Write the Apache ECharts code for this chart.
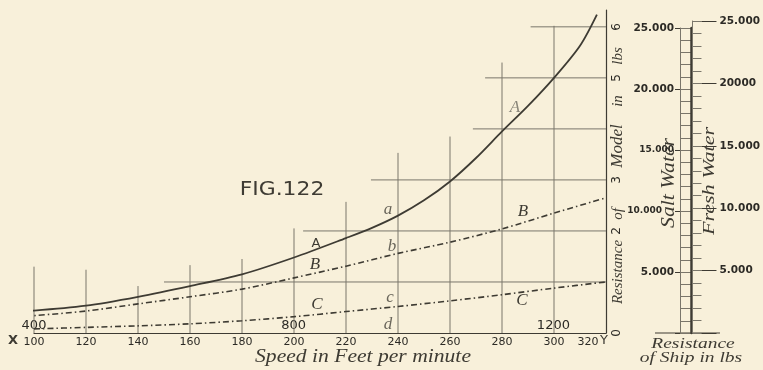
<!DOCTYPE html>
<html><head><meta charset="utf-8">
<script src="https://cdn.jsdelivr.net/npm/echarts@6/dist/echarts.min.js"></script>
<style>html,body{margin:0;padding:0;background:#f8f0da}#c{width:763px;height:370px}</style>
</head><body><div id="c"></div>
<script>
// ---- data ----
const speedTicks = [100,120,140,160,180,200,220,240,260,280,300,320];
const modelTicks = ['0','','2','3','','5','6'];          // model resistance (lbs) labels at 0..6
const shipSpeedTicks = [400, 800, 1200];
const saltTicks = ['5.000','10.000','15.000','20.000','25.000'];
const freshTicks = ['5.000','10.000','15.000','20000','25.000'];

const speedA = [91.5,100,120,140,160,180,200,220,230,240,250,260,270,280,290,300,310,316.5];
const resistA = [0.43,0.44,0.535,0.71,0.92,1.15,1.48,1.86,2.06,2.3,2.6,2.97,3.43,3.95,4.45,5.0,5.63,6.24];
const speedB = [91.5,100,120,140,160,180,200,220,240,260,280,300,320];
const resistB = [0.31,0.34,0.43,0.57,0.71,0.86,1.08,1.31,1.56,1.78,2.04,2.35,2.65];
const speedC = [100,120,140,160,180,200,220,240,260,280,300,320];
const resistC = [0.08,0.11,0.14,0.18,0.24,0.32,0.42,0.52,0.63,0.75,0.88,1.0];

// staircase grid of the figure
const vGridSpeed = [100,120,140,160,180,200,220,240,260,280,300];
const vGridTop   = [1.3,1.24,0.92,1.33,1.45,2.05,2.57,3.53,3.85,5.3,6.02];
const hGridLevel = [1,2,3,4,5,6];
const hGridStart = [150,203.5,229.6,268.8,273.5,291];

// ---- styles ----
const INK = '#3e3b33', BG = '#f8f0da';
const GRIDL = '#7a766b';
const SERIF = '"Liberation Serif", "DejaVu Serif", serif';
const SANS = '"DejaVu Sans", sans-serif';

const gridSegs = [];
vGridSpeed.forEach((s,i)=>gridSegs.push([s,0,s,vGridTop[i]]));
hGridLevel.forEach((l,i)=>gridSegs.push([hGridStart[i],l,speedTicks[speedTicks.length-1],l]));

const chart = echarts.init(document.getElementById('c'));
function txt(t, x, y, o){
  return Object.assign({type:'text', x:x, y:y, silent:true,
    style:Object.assign({text:t, fill:INK, align:'center', verticalAlign:'middle',
      font:(o&&o.font)||('italic 16px '+SERIF)}, (o&&o.style)||{})},
    o&&o.el||{});
}
const R90 = {rotation: Math.PI/2};

chart.setOption({
  backgroundColor: BG,
  animation: false,
  textStyle: {fontFamily: SANS},
  grid: [
    {left:34, right:157, top:10, bottom:37},
    {left:680, width:11, top:28, bottom:37},
    {left:692, width:10, top:21, bottom:37}
  ],
  xAxis: [
    {gridIndex:0, type:'value', min:speedTicks[0], max:speedTicks[speedTicks.length-1], interval:speedTicks[1]-speedTicks[0],
     axisLine:{show:true, lineStyle:{color:INK, width:1.2}}, axisTick:{show:false}, splitLine:{show:false},
     axisLabel:{margin:4, color:'#2c2a25', fontFamily:SANS, fontSize:11,
       formatter:v=> v===320 ? '{r|320}' : String(v),
       rich:{r:{padding:[0,36,0,0], fontFamily:SANS, fontSize:11, color:'#2c2a25'}}}},
    {gridIndex:0, type:'value', position:'bottom', min:shipSpeedTicks[0], max:1281, interval:shipSpeedTicks[1]-shipSpeedTicks[0],
     axisLine:{show:false}, axisTick:{show:false}, splitLine:{show:false},
     axisLabel:{inside:true, margin:1, color:'#2c2a25', fontFamily:SANS, fontSize:13, showMaxLabel:false,
       formatter:v=> shipSpeedTicks.includes(v) ? String(v) : ''}},
    {gridIndex:1, type:'value', show:false},
    {gridIndex:2, type:'value', show:false}
  ],
  yAxis: [
    {gridIndex:0, type:'value', position:'right', min:0, max:6.33, interval:1,
     axisLine:{show:true, lineStyle:{color:INK, width:1.2}}, axisTick:{show:false}, splitLine:{show:false},
     axisLabel:{rotate:90, margin:5, color:'#2c2a25', fontFamily:SANS, fontSize:12, showMaxLabel:false,
       formatter:v=> modelTicks[v]!==undefined ? modelTicks[v] : ''}},
    // salt-water ladder column
    {gridIndex:1, type:'value', position:'left', min:0, max:25000, interval:1000,
     axisLine:{show:true, lineStyle:{color:GRIDL, width:1}}, axisTick:{show:false}, axisLabel:{show:false},
     splitLine:{show:true, lineStyle:{color:GRIDL, width:1}}},
    {gridIndex:1, type:'value', position:'left', min:0, max:25000, interval:5000,
     axisLine:{show:false}, axisTick:{show:true, length:5, lineStyle:{color:INK}}, splitLine:{show:false},
     axisLabel:{margin:6, color:'#2c2a25', fontFamily:SANS, fontWeight:'bold', fontSize:10.5,
       formatter:v=>{ if(!v) return ''; const i=v/5000-1; const t=saltTicks[i];
         return (i===1)?'{s2|'+t+'}':(i===2?'{s|'+t+'}':t);},
       rich:{s:{fontSize:9, fontWeight:'bold', fontFamily:SANS, color:'#2c2a25'},
             s2:{fontSize:9, fontWeight:'bold', fontFamily:SANS, color:'#2c2a25', padding:[0,12,0,0]}}}},
    {gridIndex:1, type:'value', position:'right', min:0, max:25000,
     axisLine:{show:true, lineStyle:{color:INK, width:2.5}}, axisTick:{show:false}, axisLabel:{show:false}, splitLine:{show:false}},
    // fresh-water ladder column
    {gridIndex:2, type:'value', position:'right', min:0, max:25000, interval:1000,
     axisLine:{show:true, lineStyle:{color:GRIDL, width:1}}, axisTick:{show:false}, axisLabel:{show:false},
     splitLine:{show:true, lineStyle:{color:GRIDL, width:1}}},
    {gridIndex:2, type:'value', position:'right', min:0, max:25000, interval:5000,
     axisLine:{show:false}, axisTick:{show:true, length:15, lineStyle:{color:INK}}, splitLine:{show:false},
     axisLabel:{margin:18, color:'#2c2a25', fontFamily:SANS, fontWeight:'bold', fontSize:10.5,
       formatter:v=> v ? freshTicks[v/5000-1] : ''}}
  ],
  series: [
    {type:'custom', xAxisIndex:0, yAxisIndex:0, silent:true, clip:false, data:gridSegs, encode:{x:[0,2], y:[1,3]},
     renderItem:(p,api)=>{ const a=api.coord([api.value(0),api.value(1)]), b=api.coord([api.value(2),api.value(3)]);
       return {type:'line', shape:{x1:a[0],y1:a[1],x2:b[0],y2:b[1]}, style:{stroke:GRIDL, lineWidth:1}}; }},
    {type:'line', name:'A', xAxisIndex:0, yAxisIndex:0, clip:false, smooth:0.3, symbol:'none',
     data:speedA.map((s,i)=>[s,resistA[i]]), lineStyle:{color:INK, width:1.8}},
    {type:'line', name:'B', xAxisIndex:0, yAxisIndex:0, clip:false, smooth:0.3, symbol:'none',
     data:speedB.map((s,i)=>[s,resistB[i]]), lineStyle:{color:INK, width:1.6, type:[6,3,1.5,3]}},
    {type:'line', name:'C', xAxisIndex:0, yAxisIndex:0, clip:false, smooth:0.3, symbol:'none',
     data:speedC.map((s,i)=>[s,resistC[i]]), lineStyle:{color:INK, width:1.6, type:[6,3,1.5,3]}}
  ],
  graphic: [
    txt('FIG.122', 282, 190, {font:'19px '+SANS, el:{scaleX:1.15}}),
    txt('Speed in Feet per minute', 363, 357, {font:'italic 18px '+SERIF, el:{scaleX:1.2}}),
    txt('X', 13, 341, {font:'bold 13px '+SANS}),
    txt('Y', 604, 341, {font:'13px '+SANS}),
    txt('Resistance', 693, 344, {font:'italic 15px '+SERIF, el:{scaleX:1.3}}),
    txt('of Ship in lbs', 691, 358, {font:'italic 15px '+SERIF, el:{scaleX:1.3}}),
    txt('Salt Water', 669, 183, {font:'italic 18px '+SERIF, el:{rotation:Math.PI/2, scaleX:1.2}}),
    txt('Fresh Water', 710, 181, {font:'italic 17px '+SERIF, el:{rotation:Math.PI/2, scaleX:1.3}}),
    txt('Resistance', 618, 272, {font:'italic 15px '+SERIF, el:R90}),
    txt('of', 618, 214, {font:'italic 15px '+SERIF, el:R90}),
    txt('Model', 618, 146, {font:'italic 17px '+SERIF, el:R90}),
    txt('in', 618, 101, {font:'italic 15px '+SERIF, el:R90}),
    txt('lbs', 618, 56, {font:'italic 15px '+SERIF, el:R90}),
    txt('A', 316, 244, {font:'13px '+SANS}),
    txt('B', 315, 265, {font:'italic 17px '+SERIF}),
    txt('C', 317, 305, {font:'italic 17px '+SERIF}),
    txt('a', 388, 210, {font:'italic 17px '+SERIF, style:{fill:'#6a665b'}}),
    txt('b', 392, 247, {font:'italic 17px '+SERIF, style:{fill:'#6a665b'}}),
    txt('c', 390, 298, {font:'italic 17px '+SERIF, style:{fill:'#6a665b'}}),
    txt('d', 388, 325, {font:'italic 17px '+SERIF, style:{fill:'#6a665b'}}),
    txt('A', 515, 108, {font:'italic 17px '+SERIF, style:{fill:'#8a867a'}}),
    txt('B', 523, 212, {font:'italic 17px '+SERIF}),
    txt('C', 522, 301, {font:'italic 17px '+SERIF}),
    {type:'line', silent:true, shape:{x1:655, y1:333, x2:720, y2:333}, style:{stroke:INK, lineWidth:1}}
  ]
});
</script></body></html>
